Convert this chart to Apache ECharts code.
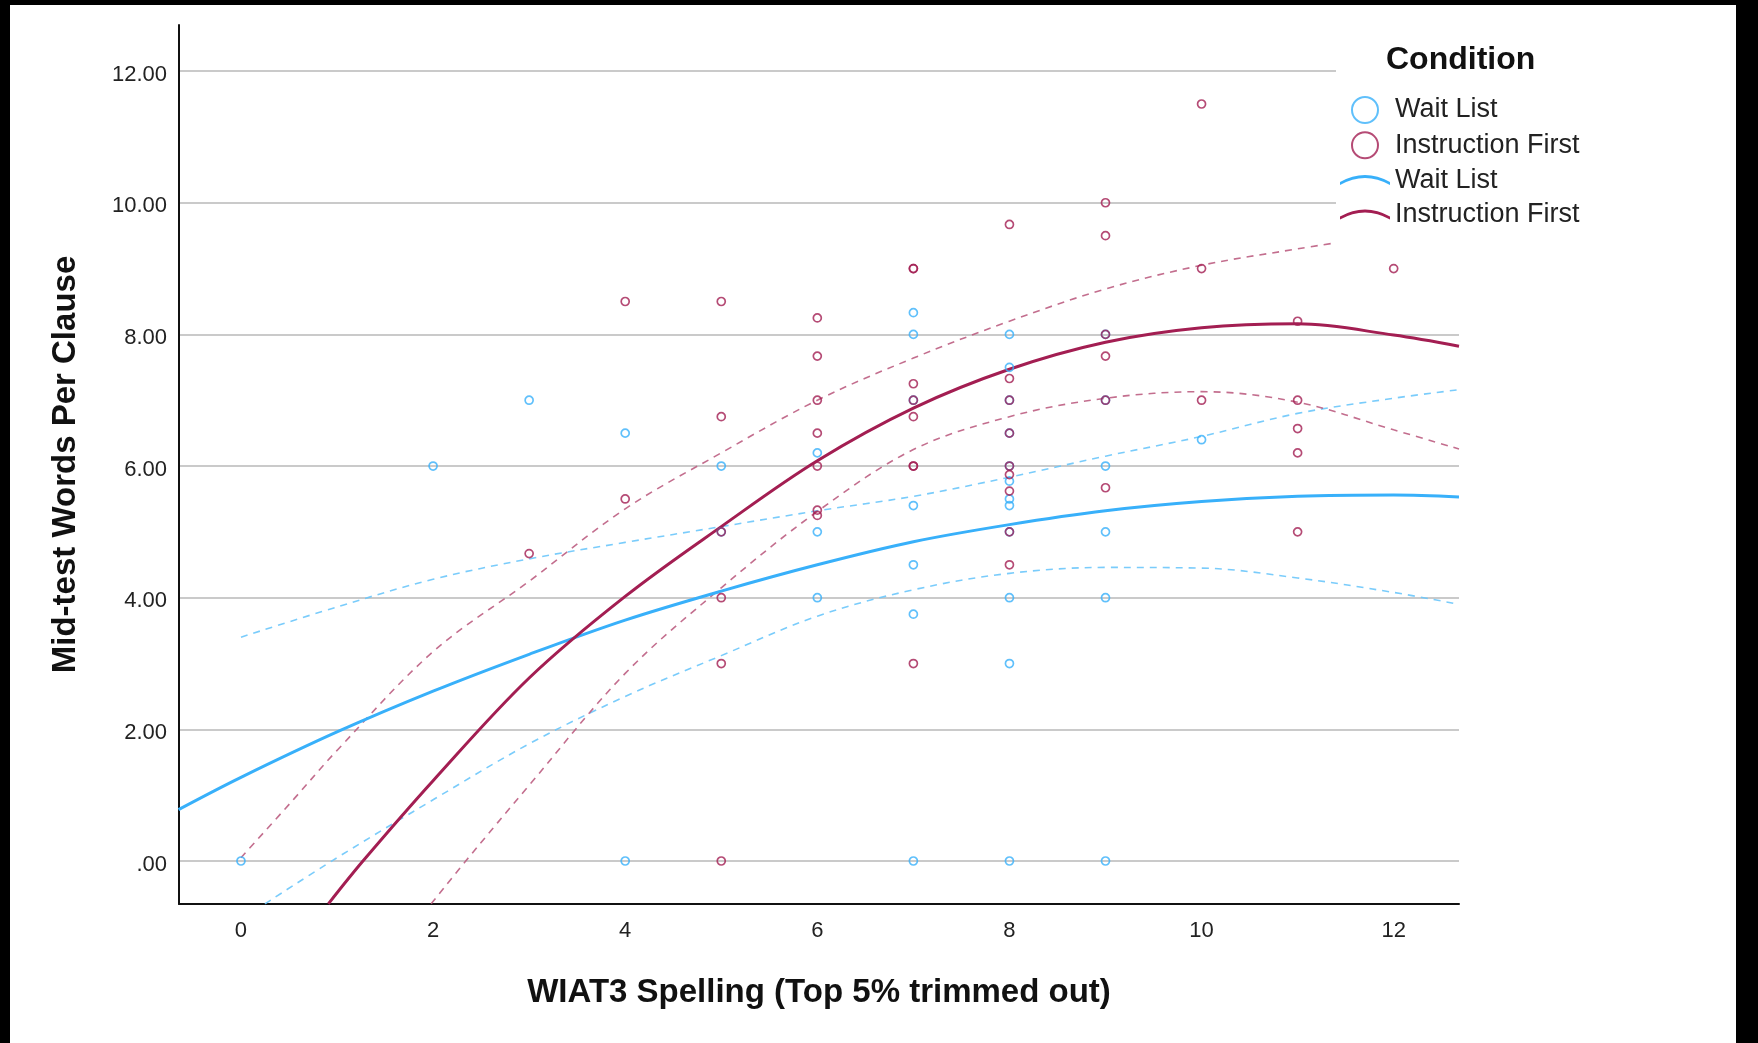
<!DOCTYPE html>
<html>
<head>
<meta charset="utf-8">
<script src="https://cdn.jsdelivr.net/npm/echarts@6/dist/echarts.min.js"></script>
<style>
html,body{margin:0;padding:0;background:#fff;}
#chart{width:1758px;height:1043px;}
</style>
</head>
<body>
<div id="chart"></div>
<script>
// ---- tick values / labels ----
var xTickValues = [0, 2, 4, 6, 8, 10, 12];
var xTickLabels = ['0', '2', '4', '6', '8', '10', '12'];
var yTickValues = [0, 2, 4, 6, 8, 10, 12];
var yTickLabels = ['.00', '2.00', '4.00', '6.00', '8.00', '10.00', '12.00'];

// ---- legend / series names ----
var groupNames = ['Wait List', 'Instruction First'];

// ---- observed points [WIAT3 spelling, words per clause] ----
var waitListPoints = [
  [0,0],[2,6],[3,7],[4,6.5],[4,0],[5,6],[5,5],[6,6.2],[6,5],[6,4],
  [7,8.33],[7,8],[7,7],[7,5.4],[7,4.5],[7,3.75],[7,0],
  [8,8],[8,7.5],[8,7],[8,6.5],[8,6],[8,5.77],[8,5.5],[8,5.4],[8,5],[8,4],[8,3],[8,0],
  [9,8],[9,7],[9,6],[9,5],[9,4],[9,0],[10,6.4]
];
var instructionFirstPoints = [
  [3,4.67],[4,8.5],[4,5.5],[5,8.5],[5,6.75],[5,5],[5,4],[5,3],[5,0],
  [6,8.25],[6,7.67],[6,7],[6,6.5],[6,6],[6,5.33],[6,5.25],
  [7,9],[7,9],[7,7.25],[7,7],[7,6.75],[7,6],[7,6],[7,3],
  [8,9.67],[8,7.33],[8,7],[8,6.5],[8,6],[8,5.87],[8,5.62],[8,5],[8,4.5],
  [9,10],[9,9.5],[9,8],[9,7.67],[9,7],[9,5.67],
  [10,11.5],[10,9],[10,7],[11,8.2],[11,7],[11,6.57],[11,6.2],[11,5],[12,9]
];

// ---- fit lines ----
var waitListFit = [
  [-0.65,0.78],[0,1.27],[1,1.96],[2,2.58],[3,3.14],[4,3.66],[5,4.1],[6,4.5],
  [7,4.85],[8,5.11],[9,5.32],[10,5.46],[11,5.54],[12,5.56],[12.68,5.53]
];
var waitListUpper = [
  [0,3.4],[1,3.86],[2,4.28],[3,4.59],[4,4.84],[5,5.08],[6,5.32],[7,5.54],
  [8,5.83],[9,6.15],[10,6.45],[11,6.8],[12,7.03],[12.68,7.16]
];
var waitListLower = [
  [0.25,-0.65],[1,0.05],[2,0.93],[3,1.78],[4,2.5],[5,3.12],[6,3.72],[7,4.12],
  [8,4.37],[9,4.46],[10,4.45],[11,4.3],[12,4.08],[12.68,3.9]
];
var instructionFirstFit = [
  [0.91,-0.65],[1.27,0],[2,1.22],[3,2.78],[4,4.02],[5,5.08],[6,6.08],[7,6.88],
  [8,7.47],[9,7.88],[10,8.1],[11,8.16],[12,7.99],[12.68,7.82]
];
var instructionFirstUpper = [
  [0,0.05],[0.55,0.94],[1,1.68],[2,3.18],[3,4.25],[4,5.35],[5,6.2],[6,7.0],
  [7,7.64],[8,8.2],[9,8.69],[10,9.05],[11,9.3],[11.35,9.38]
];
var instructionFirstLower = [
  [1.98,-0.65],[2.34,0],[3,1.15],[4,2.85],[5,4.15],[6,5.31],[7,6.25],[8,6.75],
  [9,7.03],[10,7.13],[11,6.97],[12,6.55],[12.68,6.26]
];

var BLUE = '#38b0fa';
var BLUE_DASH = '#6cc6fb';
var RED = '#a31e52';
var RED_DASH = '#bd5e82';
var FONT = '"Liberation Sans", Arial, Helvetica, sans-serif';

var chart = echarts.init(document.getElementById('chart'), null, {renderer: 'canvas'});

function scatterSeries(name, data, color, z) {
  return {
    name: name, type: 'scatter', data: data, z: z,
    symbol: 'circle', symbolSize: 8,
    itemStyle: {color: 'rgba(255,255,255,0)', borderColor: color, borderWidth: 1.7, opacity: 0.8},
    emphasis: {disabled: true}, silent: true
  };
}
function lineSeries(name, data, color, width, dashed, z) {
  return {
    name: name, type: 'line', data: data, z: z,
    showSymbol: false, symbol: 'none', smooth: 0.35,
    lineStyle: {color: color, width: width, type: dashed ? [7, 6] : 'solid', opacity: dashed ? 0.9 : 1},
    itemStyle: {color: color},
    emphasis: {disabled: true}, silent: true
  };
}

var arcIcon = 'path://M0,8 Q25,-6 50,8 L50,11 Q25,-3 0,11 Z';

var option = {
  backgroundColor: '#ffffff',
  animation: false,
  graphic: [
    {type: 'rect', left: 0, top: 0, shape: {width: 1758, height: 5}, style: {fill: '#000'}, silent: true, z: 100},
    {type: 'rect', left: 0, top: 0, shape: {width: 10, height: 1043}, style: {fill: '#000'}, silent: true, z: 100},
    {type: 'rect', right: 0, top: 0, shape: {width: 22, height: 1043}, style: {fill: '#000'}, silent: true, z: 100}
  ],
  title: {
    text: 'Condition', left: 1386, top: 44, padding: 0,
    textStyle: {fontFamily: FONT, fontSize: 32, fontWeight: 'bold', color: '#111'}
  },
  legend: {
    orient: 'vertical', left: 1336, top: 66,
    padding: [30, 20, 20, 4],
    backgroundColor: '#ffffff',
    itemWidth: 50, itemHeight: 26, itemGap: 7.3,
    selectedMode: false,
    textStyle: {fontFamily: FONT, fontSize: 27, lineHeight: 26, color: '#222'},
    data: [
      {name: groupNames[0], icon: 'emptyCircle', itemStyle: {color: BLUE, borderColor: BLUE, borderWidth: 2}},
      {name: groupNames[1], icon: 'emptyCircle', itemStyle: {color: RED, borderColor: RED, borderWidth: 2}},
      {name: groupNames[0] + ' ', icon: arcIcon, itemStyle: {color: BLUE, borderWidth: 0}},
      {name: groupNames[1] + ' ', icon: arcIcon, itemStyle: {color: RED, borderWidth: 0}}
    ]
  },
  grid: {left: 179, right: 299, top: 25, bottom: 139, containLabel: false},
  xAxis: {
    type: 'value', min: -0.645, max: 12.68,
    name: 'WIAT3 Spelling (Top 5% trimmed out)', nameLocation: 'middle', nameGap: 72,
    nameTextStyle: {fontFamily: FONT, fontSize: 33, fontWeight: 'bold', color: '#111'},
    axisLine: {show: true, onZero: false, lineStyle: {color: '#111', width: 2}},
    axisTick: {show: false, customValues: xTickValues},
    splitLine: {show: false},
    axisLabel: {
      customValues: xTickValues, margin: 16, fontFamily: FONT, fontSize: 22, color: '#222',
      formatter: function (v) { var i = xTickValues.indexOf(v); return i >= 0 ? xTickLabels[i] : ''; }
    }
  },
  yAxis: {
    type: 'value', min: -0.653, max: 12.70,
    name: 'Mid-test Words Per Clause', nameLocation: 'middle', nameGap: 97,
    nameTextStyle: {fontFamily: FONT, fontSize: 33, fontWeight: 'bold', color: '#111'},
    axisLine: {show: true, onZero: false, lineStyle: {color: '#111', width: 2}},
    axisTick: {show: false, customValues: yTickValues},
    splitLine: {show: true, lineStyle: {color: '#b8b8b8', width: 1.5}},
    axisLabel: {
      customValues: yTickValues, margin: 12, fontFamily: FONT, fontSize: 22, color: '#222',
      formatter: function (v) { var i = yTickValues.indexOf(v); return i >= 0 ? '{t|' + yTickLabels[i] + '}' : ''; },
      rich: {t: {fontFamily: FONT, fontSize: 22, color: '#222', padding: [7, 0, 0, 0]}}
    }
  },
  series: [
    scatterSeries(groupNames[0], waitListPoints, BLUE, 3),
    scatterSeries(groupNames[1], instructionFirstPoints, RED, 3),
    lineSeries(groupNames[0] + ' ', waitListFit, BLUE, 3, false, 3),
    lineSeries(groupNames[1] + ' ', instructionFirstFit, RED, 3, false, 3),
    lineSeries('Wait List upper', waitListUpper, BLUE_DASH, 1.6, true, 2),
    lineSeries('Wait List lower', waitListLower, BLUE_DASH, 1.6, true, 2),
    lineSeries('Instruction First upper', instructionFirstUpper, RED_DASH, 1.6, true, 2),
    lineSeries('Instruction First lower', instructionFirstLower, RED_DASH, 1.6, true, 2)
  ]
};
chart.setOption(option);
</script>
</body>
</html>
